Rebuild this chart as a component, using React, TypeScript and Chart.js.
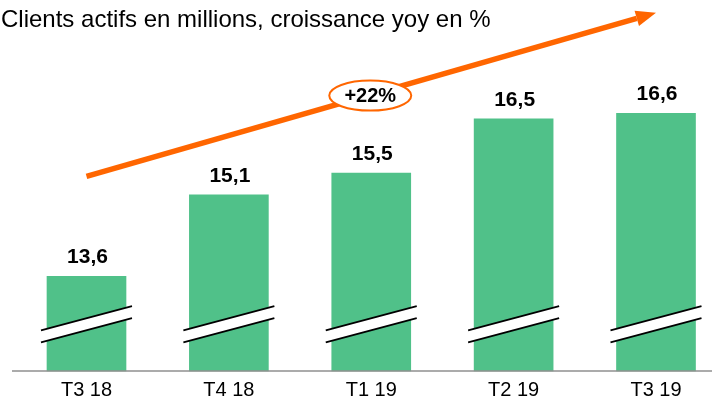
import React, { useEffect, useRef } from "react";
import { Chart, registerables } from "chart.js";

Chart.register(...registerables);

const categories = ["T3 18", "T4 18", "T1 19", "T2 19", "T3 19"];
const clients = [13.6, 15.1, 15.5, 16.5, 16.6];
const valueLabels = ["13,6", "15,1", "15,5", "16,5", "16,6"];
const subtitle = "Clients actifs en millions, croissance yoy en %";
const growthLabel = "+22%";
const yMin = 11.86;
const yMax = 17.95;
const breakValue = 12.72;
const trendStart = 15.44;
const trendEnd = 18.45;

const GREEN = "#50C189";
const ORANGE = "#FF6600";
const FONT = "'Liberation Sans', Arial, Helvetica, sans-serif";

const overlayPlugin = {
  id: "overlay",
  afterDatasetsDraw(chart: any) {
    const ctx = chart.ctx;
    const xs = chart.scales.x;
    const ys = chart.scales.y;
    const area = chart.chartArea;
    const meta = chart.getDatasetMeta(0);
    ctx.save();

    // baseline
    ctx.strokeStyle = "#8f8f8f";
    ctx.lineWidth = 1.5;
    ctx.beginPath();
    ctx.moveTo(12, area.bottom);
    ctx.lineTo(chart.width, area.bottom);
    ctx.stroke();

    // break marks & value labels
    const yc = ys.getPixelForValue(breakValue);
    meta.data.forEach((bar: any, i: number) => {
      const hw = bar.width / 2 + 6;
      const slope = 0.267;
      const x0 = bar.x - hw;
      const x1 = bar.x + hw;
      const dy = hw * slope;
      ctx.fillStyle = "#ffffff";
      ctx.beginPath();
      ctx.moveTo(x0, yc - 6 + dy);
      ctx.lineTo(x1, yc - 6 - dy);
      ctx.lineTo(x1, yc + 6 - dy);
      ctx.lineTo(x0, yc + 6 + dy);
      ctx.closePath();
      ctx.fill();
      ctx.strokeStyle = "#000000";
      ctx.lineWidth = 1.8;
      ctx.beginPath();
      ctx.moveTo(x0, yc - 6 + dy);
      ctx.lineTo(x1, yc - 6 - dy);
      ctx.moveTo(x0, yc + 6 + dy);
      ctx.lineTo(x1, yc + 6 - dy);
      ctx.stroke();

      ctx.fillStyle = "#000000";
      ctx.font = `bold 21px ${FONT}`;
      ctx.textAlign = "center";
      ctx.textBaseline = "alphabetic";
      ctx.fillText(valueLabels[i], bar.x + 1, bar.y - 13);
    });

    // trend arrow
    const sx = xs.getPixelForValue(0);
    const ex = xs.getPixelForValue(categories.length - 1);
    const sy = ys.getPixelForValue(trendStart);
    const ey = ys.getPixelForValue(trendEnd);
    const ang = Math.atan2(ey - sy, ex - sx);
    const headLen = 20;
    const headHalf = 8;
    const bx = ex - headLen * Math.cos(ang);
    const by = ey - headLen * Math.sin(ang);
    ctx.strokeStyle = ORANGE;
    ctx.fillStyle = ORANGE;
    ctx.lineWidth = 5.5;
    ctx.beginPath();
    ctx.moveTo(sx, sy);
    ctx.lineTo(bx, by);
    ctx.stroke();
    ctx.beginPath();
    ctx.moveTo(ex, ey);
    ctx.lineTo(bx + headHalf * Math.sin(ang), by - headHalf * Math.cos(ang));
    ctx.lineTo(bx - headHalf * Math.sin(ang), by + headHalf * Math.cos(ang));
    ctx.closePath();
    ctx.fill();

    // growth ellipse
    const mx = (sx + ex) / 2;
    const my = (sy + ey) / 2;
    ctx.beginPath();
    ctx.ellipse(mx - 1, my + 1, 41, 15, 0, 0, Math.PI * 2);
    ctx.fillStyle = "#ffffff";
    ctx.fill();
    ctx.strokeStyle = ORANGE;
    ctx.lineWidth = 2;
    ctx.stroke();
    ctx.fillStyle = "#000000";
    ctx.font = `bold 20px ${FONT}`;
    ctx.textAlign = "center";
    ctx.textBaseline = "middle";
    ctx.fillText(growthLabel, mx - 1, my + 2);

    // subtitle
    ctx.font = `24px ${FONT}`;
    ctx.textAlign = "left";
    ctx.textBaseline = "alphabetic";
    ctx.fillText(subtitle, 1, 27);

    ctx.restore();
  },
};

export default function App() {
  const ref = useRef<HTMLCanvasElement>(null);
  useEffect(() => {
    document.body.style.margin = "0";
    const chart = new Chart(ref.current!, {
      type: "bar",
      data: {
        labels: categories,
        datasets: [
          {
            data: clients,
            backgroundColor: GREEN,
            barThickness: 79,
            borderWidth: 0,
            clip: false,
            base: yMin,
          },
        ],
      },
      options: {
        animation: false,
        responsive: false,
        devicePixelRatio: 1,
        layout: { padding: { left: 86.5, right: 56, top: 40, bottom: 0 } },
        plugins: { legend: { display: false }, tooltip: { enabled: false }, title: { display: false } },
        scales: {
          x: {
            type: "category",
            offset: false,
            grid: { display: false, drawTicks: false, tickLength: 0 },
            border: { display: false },
            ticks: { color: "#000", font: { family: FONT, size: 20 }, padding: 7, maxRotation: 0 },
          },
          y: { display: false, min: yMin, max: yMax },
        },
      },
      plugins: [overlayPlugin],
    });
    return () => chart.destroy();
  }, []);
  return (
    <div style={{ width: 712, height: 401, overflow: "hidden" }}>
      <canvas ref={ref} width={712} height={409} style={{ display: "block" }} />
    </div>
  );
}
